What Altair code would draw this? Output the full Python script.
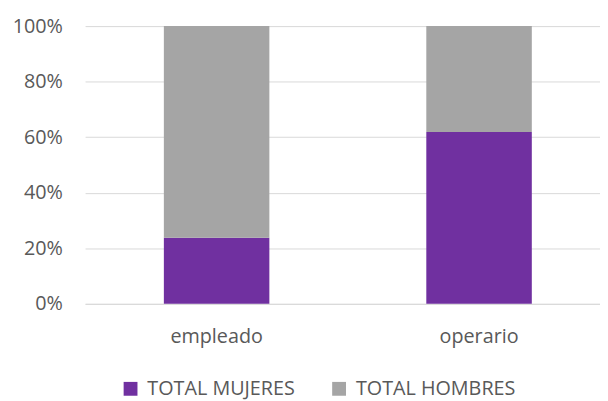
import altair as alt
import pandas as pd

categorias = ["empleado", "operario"]
series = ["TOTAL MUJERES", "TOTAL HOMBRES"]
mujeres = [23.8, 61.9]
hombres = [76.2, 38.1]
colores = ["#7030A0", "#A5A5A5"]

rows = []
for i, c in enumerate(categorias):
    rows.append({"cat": c, "serie": series[0], "valor": mujeres[i], "orden": 0})
    rows.append({"cat": c, "serie": series[1], "valor": hombres[i], "orden": 1})
df = pd.DataFrame(rows)

FONT = "Open Sans"

chart = alt.Chart(df).mark_bar().encode(
    x=alt.X("cat:N", sort=categorias, title=None,
            scale=alt.Scale(paddingInner=0.598, paddingOuter=0.28, align=0.536),
            axis=alt.Axis(labelAngle=0, ticks=False, domain=True, domainColor="#D9D9D9",
                          labelPadding=23, labelFontSize=20, labelColor="#595959",
                          labelFont=FONT)),
    y=alt.Y("valor:Q", stack="normalize", title=None,
            scale=alt.Scale(domain=[0, 1]),
            axis=alt.Axis(format="%", values=[0, 0.2, 0.4, 0.6, 0.8, 1.0],
                          ticks=False, domain=False, gridColor="#D9D9D9",
                          labelPadding=23, labelFontSize=20, labelColor="#595959",
                          labelFont=FONT)),
    color=alt.Color("serie:N", sort=series,
                    scale=alt.Scale(domain=series, range=colores),
                    legend=alt.Legend(title=None, orient="none", direction="horizontal",
                                      legendX=36, legendY=357,
                                      symbolType="square", symbolSize=196,
                                      symbolStrokeWidth=0, labelLimit=400,
                                      labelFontSize=20, labelColor="#595959", labelFont=FONT,
                                      labelOffset=7, columnPadding=34)),
    order=alt.Order("orden:Q", sort="ascending"),
).properties(
    width=521, height=281,
    autosize=alt.AutoSizeParams(type="none"),
    padding={"left": 78, "top": 16, "right": 0, "bottom": 96},
).configure_view(stroke=None)

chart.save("out.html", embed_options={"renderer": "svg", "actions": False})
